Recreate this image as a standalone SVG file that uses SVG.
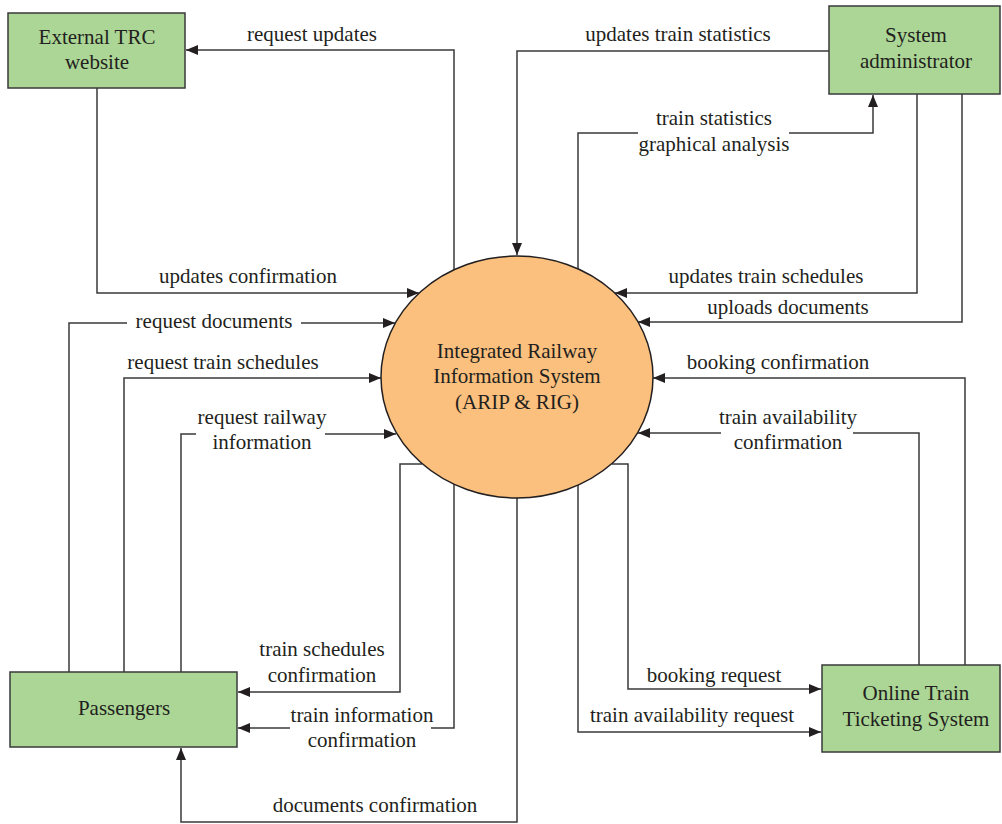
<svg xmlns="http://www.w3.org/2000/svg" width="1002" height="824" viewBox="0 0 1002 824">
<defs>
<style>
.box{fill:#ABD695;stroke:#3a3a3a;stroke-width:1.5}
.proc{fill:#FBC07D;stroke:#231F20;stroke-width:1.5}
.lbl{font-family:"Liberation Serif",serif;font-size:21px;fill:#231F20;text-anchor:middle}
.ln{fill:none;stroke:#3a3a3a;stroke-width:1.5}
</style>
<marker id="ah" viewBox="0 0 12 10" refX="12" refY="5" markerWidth="12" markerHeight="10" markerUnits="userSpaceOnUse" orient="auto">
<path d="M0,0 L12,5 L0,10 z" fill="#231F20"/>
</marker>
</defs>
<rect width="1002" height="824" fill="#ffffff"/>
<g id="connectors">
<polyline class="ln" points="454,270 454,50 186,50" marker-end="url(#ah)"/>
<polyline class="ln" points="97,88 97,293 419,293" marker-end="url(#ah)"/>
<polyline class="ln" points="829,51 517,51 517,255" marker-end="url(#ah)"/>
<polyline class="ln" points="578,269 578,133 638,133"/>
<polyline class="ln" points="789,133 873,133 873,95" marker-end="url(#ah)"/>
<polyline class="ln" points="917,94 917,293 615,293" marker-end="url(#ah)"/>
<polyline class="ln" points="962,94 962,322 638,322" marker-end="url(#ah)"/>
<polyline class="ln" points="69,672 69,323 127,323"/>
<line class="ln" x1="301" y1="323" x2="395" y2="323" marker-end="url(#ah)"/>
<polyline class="ln" points="124,672 124,378 381,378" marker-end="url(#ah)"/>
<polyline class="ln" points="181,672 181,434 196,434"/>
<line class="ln" x1="325" y1="434" x2="396" y2="434" marker-end="url(#ah)"/>
<polyline class="ln" points="422,464 400,464 400,692 238,692" marker-end="url(#ah)"/>
<polyline class="ln" points="454,484 454,728 431,728"/>
<line class="ln" x1="290" y1="728" x2="238" y2="728" marker-end="url(#ah)"/>
<polyline class="ln" points="517,498 517,822 181,822 181,748" marker-end="url(#ah)"/>
<polyline class="ln" points="965,665 965,378 653,378" marker-end="url(#ah)"/>
<polyline class="ln" points="919,665 919,433 853,433"/>
<line class="ln" x1="721" y1="433" x2="638" y2="433" marker-end="url(#ah)"/>
<polyline class="ln" points="612,464 628,464 628,689 821,689" marker-end="url(#ah)"/>
<polyline class="ln" points="578,485 578,732 821,732" marker-end="url(#ah)"/>
</g>
<g id="labels">
<text class="lbl" x="312" y="41">request updates</text>
<text class="lbl" x="248" y="283">updates confirmation</text>
<text class="lbl" x="678" y="41">updates train statistics</text>
<text class="lbl" x="714" y="125">train statistics</text>
<text class="lbl" x="714" y="151">graphical analysis</text>
<text class="lbl" x="766" y="283">updates train schedules</text>
<text class="lbl" x="788" y="314">uploads documents</text>
<text class="lbl" x="214" y="328">request documents</text>
<text class="lbl" x="223" y="369">request train schedules</text>
<text class="lbl" x="262" y="424">request railway</text>
<text class="lbl" x="262" y="449">information</text>
<text class="lbl" x="778" y="369">booking confirmation</text>
<text class="lbl" x="788" y="424">train availability</text>
<text class="lbl" x="788" y="449">confirmation</text>
<text class="lbl" x="322" y="656">train schedules</text>
<text class="lbl" x="322" y="682">confirmation</text>
<text class="lbl" x="362" y="722">train information</text>
<text class="lbl" x="362" y="747">confirmation</text>
<text class="lbl" x="375" y="812">documents confirmation</text>
<text class="lbl" x="714" y="682">booking request</text>
<text class="lbl" x="692" y="722">train availability request</text>
</g>
<g id="external-trc">
<rect class="box" x="8" y="13" width="177" height="75"/>
<text class="lbl" x="97" y="44">External TRC</text>
<text class="lbl" x="97" y="69">website</text>
</g>
<g id="system-admin">
<rect class="box" x="829" y="6" width="171" height="88"/>
<text class="lbl" x="916" y="42">System</text>
<text class="lbl" x="916" y="68">administrator</text>
</g>
<g id="arip-rig">
<ellipse class="proc" cx="517" cy="377" rx="136" ry="121"/>
<text class="lbl" x="517" y="358">Integrated Railway</text>
<text class="lbl" x="517" y="383">Information System</text>
<text class="lbl" x="517" y="409">(ARIP &amp; RIG)</text>
</g>
<g id="passengers">
<rect class="box" x="10" y="672" width="227" height="75"/>
<text class="lbl" x="124" y="715">Passengers</text>
</g>
<g id="online-ticketing">
<rect class="box" x="822" y="665" width="178" height="87"/>
<text class="lbl" x="916" y="700">Online Train</text>
<text class="lbl" x="916" y="726">Ticketing System</text>
</g>
</svg>
